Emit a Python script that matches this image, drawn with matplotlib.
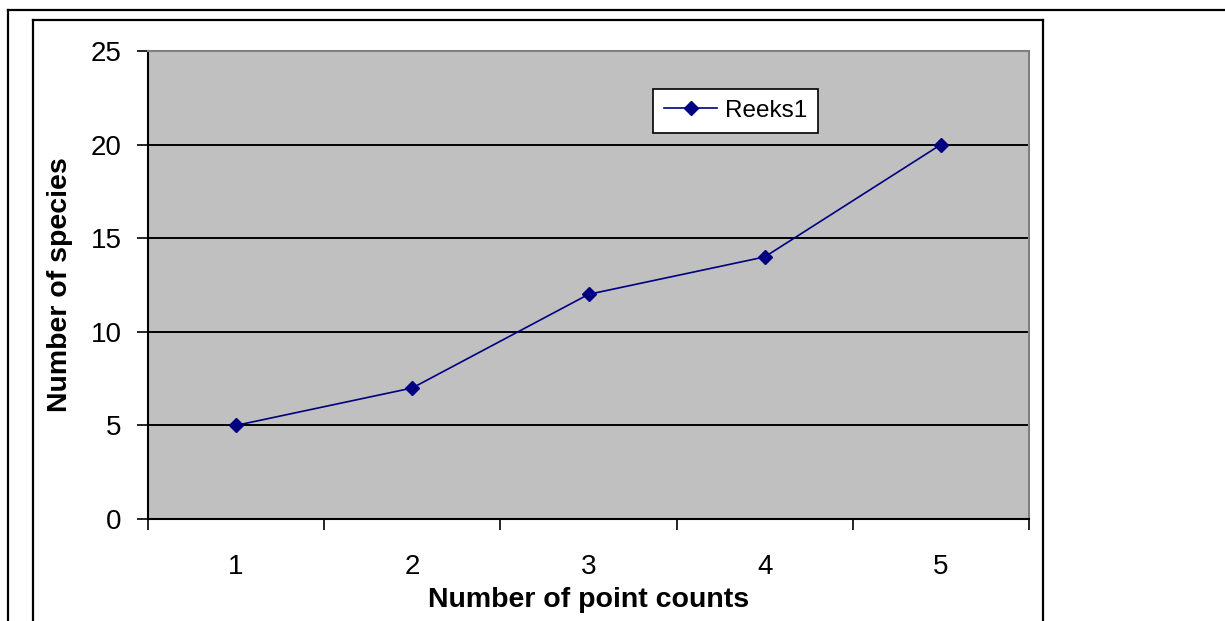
import matplotlib
matplotlib.use("Agg")
import matplotlib.pyplot as plt
from matplotlib.lines import Line2D
from matplotlib.ticker import FixedLocator, NullFormatter

categories = [1, 2, 3, 4, 5]
species = [5, 7, 12, 14, 20]
series_name = "Reeks1"
y_ticks = [0, 5, 10, 15, 20, 25]

plt.rcParams["font.family"] = ["Liberation Sans", "DejaVu Sans"]

W, H = 1225, 621
fig = plt.figure(figsize=(W / 100, H / 100), dpi=100)
fig.patch.set_facecolor("white")

def px_ax(l, t, r, b):
    return [l / W, 1 - b / H, (r - l) / W, (b - t) / H]

ax_l, ax_t, ax_r, ax_b = 148, 51, 1029, 519
ax = fig.add_axes(px_ax(ax_l, ax_t, ax_r, ax_b))
ax.set_facecolor("#C0C0C0")

x = list(range(len(categories)))
ax.plot(x, species, color="#000080", lw=1.2, marker="D", ms=7,
        markerfacecolor="#000080", markeredgecolor="#000080", label=series_name, zorder=3)

ax.set_xlim(-0.5, len(categories) - 0.5)
ax.set_ylim(0, 25)
ax.set_yticks(y_ticks)
ax.yaxis.grid(True, color="black", lw=1.4)
ax.set_axisbelow(True)

# category ticks sit between categories, labels at the centres
ax.xaxis.set_major_locator(FixedLocator([i - 0.5 for i in range(len(categories) + 1)]))
ax.xaxis.set_major_formatter(NullFormatter())
ax.xaxis.set_minor_locator(FixedLocator(x))
ax.set_xticklabels([str(c) for c in categories], minor=True)
ax.tick_params(axis="x", which="major", direction="out", length=8, width=1.2, color="black")
ax.tick_params(axis="x", which="minor", length=0, pad=25, labelsize=20)
ax.tick_params(axis="y", direction="out", length=8, width=1.2, color="black", pad=11, labelsize=20)

for side in ("left", "bottom"):
    ax.spines[side].set_color("black")
    ax.spines[side].set_linewidth(1.5)
for side in ("top", "right"):
    ax.spines[side].set_color("#808080")
    ax.spines[side].set_linewidth(1.5)

ax.set_xlabel("Number of point counts", fontsize=20.5, fontweight="bold", labelpad=5)
ax.set_ylabel("Number of species", fontsize=20.5, fontweight="bold", labelpad=13)

leg = ax.legend(loc="upper left",
                bbox_to_anchor=((653 - ax_l) / (ax_r - ax_l), 1 - (89 - ax_t) / (ax_b - ax_t)),
                frameon=True, fancybox=False, edgecolor="black", facecolor="white",
                framealpha=1, fontsize=17.5, handlelength=2.2, borderpad=0.45,
                handletextpad=0.3, borderaxespad=0)
leg.get_frame().set_linewidth(1.2)

# page frame lines
def hline(y, x0, x1):
    fig.add_artist(Line2D([x0 / W, x1 / W], [1 - y / H, 1 - y / H], color="black", lw=1.6))

def vline(xp, y0, y1):
    fig.add_artist(Line2D([xp / W, xp / W], [1 - y0 / H, 1 - y1 / H], color="black", lw=1.6))

hline(10, 8, W)
vline(8, 10, H)
hline(20, 33, 1043)
vline(33, 20, H)
vline(1043, 20, H)

fig.savefig("out.png", dpi=100)
